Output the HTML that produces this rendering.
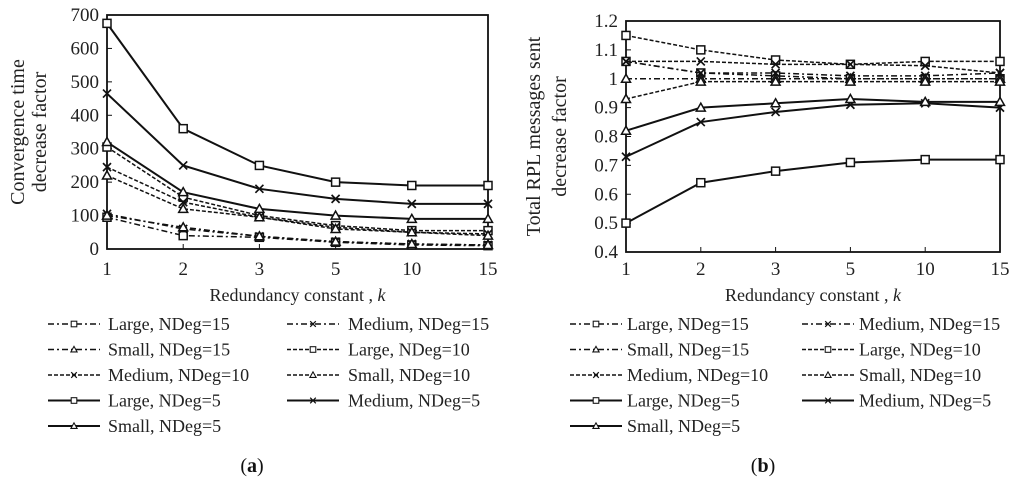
<!DOCTYPE html>
<html><head><meta charset="utf-8"><style>
body{margin:0;background:#fff;}
svg{display:block;}
svg text{font-family:"Liberation Serif","Times New Roman",serif;}
</style></head><body>
<svg id="c" width="1024" height="484" viewBox="0 0 1024 484"></svg>
<script>
const categories=["1","2","3","5","10","15"];
const seriesNames=["Large, NDeg=15","Medium, NDeg=15","Small, NDeg=15","Large, NDeg=10","Medium, NDeg=10","Small, NDeg=10","Large, NDeg=5","Medium, NDeg=5","Small, NDeg=5"];
const ticksA=[0,100,200,300,400,500,600,700];
const ticksB=[0.4,0.5,0.6,0.7,0.8,0.9,1,1.1,1.2];
const aLarge15=[95,40,35,20,12,10];
const aMedium15=[105,60,38,22,15,12];
const aSmall15=[100,65,38,22,15,12];
const aLarge10=[305,155,100,70,55,55];
const aMedium10=[245,140,95,65,50,45];
const aSmall10=[220,120,95,60,50,40];
const aLarge5=[675,360,250,200,190,190];
const aMedium5=[465,250,180,150,135,135];
const aSmall5=[320,170,120,100,90,90];
const bLarge15=[1.06,1.02,1.01,1.0,1.0,1.0];
const bMedium15=[1.06,1.02,1.02,1.01,1.01,1.02];
const bSmall15=[1.0,1.0,1.0,1.0,1.0,1.0];
const bLarge10=[1.15,1.1,1.065,1.05,1.06,1.06];
const bMedium10=[1.06,1.06,1.05,1.05,1.045,1.02];
const bSmall10=[0.93,0.99,0.99,0.99,0.99,0.99];
const bLarge5=[0.5,0.64,0.68,0.71,0.72,0.72];
const bMedium5=[0.73,0.85,0.885,0.91,0.915,0.9];
const bSmall5=[0.82,0.9,0.915,0.93,0.92,0.92];

const NS="http://www.w3.org/2000/svg";
const svg=document.getElementById('c');
function mk(t,a,p){const e=document.createElementNS(NS,t);for(const k in a)e.setAttribute(k,a[k]);(p||svg).appendChild(e);return e;}
const dashes=["6 3 2 3","6 3 2 3","6 3 2 3","4 2","4 2","4 2","","",""];
const markers=["sq","x","tri","sq","x","tri","sq","x","tri"];
const widths=[1.5,1.5,1.5,1.5,1.5,1.5,2,2,2];
function marker(g,m,x,y){
  if(m==="sq")mk('rect',{x:x-4,y:y-4,width:8,height:8,fill:'#fff',stroke:'#111','stroke-width':1.5},g);
  else if(m==="x"){mk('path',{d:`M${x-4} ${y-4}L${x+4} ${y+4}M${x+4} ${y-4}L${x-4} ${y+4}`,stroke:'#111','stroke-width':1.7},g);}
  else mk('path',{d:`M${x} ${y-4.5}L${x+4.5} ${y+3.5}L${x-4.5} ${y+3.5}Z`,fill:'#fff',stroke:'#111','stroke-width':1.5},g);
}
function chart(id,x0,x1,y0,y1,vmin,vmax,ticks,fmt,data,ytitle,tx1,tx2){
  const g=mk('g',{});
  
  
  const xs=i=>x0+(x1-x0)*i/(categories.length-1);
  const ys=v=>y1-(y1-y0)*(v-vmin)/(vmax-vmin);
  mk('rect',{x:x0,y:y0,width:x1-x0,height:y1-y0,fill:'none',stroke:'#111','stroke-width':1.8},g);
  ticks.forEach(t=>{const y=ys(t);
    mk('line',{x1:x0,x2:x0+5,y1:y,y2:y,stroke:'#111'},g);
    const tt=mk('text',{x:x0-8,y:y+6,'text-anchor':'end','font-size':19,fill:'#222'},g);tt.textContent=fmt(t);
    });
  categories.forEach((c,i)=>{const x=xs(i);
    mk('line',{x1:x,x2:x,y1:y1,y2:y1-5,stroke:'#111'},g);
    const tt=mk('text',{x:x,y:275,'text-anchor':'middle','font-size':19,fill:'#222'},g);tt.textContent=c;
    });
  data.forEach((s,k)=>{
    const p=mk('polyline',{points:s.map((v,i)=>xs(i)+','+ys(v)).join(' '),fill:'none',stroke:'#111','stroke-width':widths[k],'stroke-dasharray':dashes[k]||'none'},g);
    
    s.forEach((v,i)=>marker(g,markers[k],xs(i),ys(v)));
  });
  const cy=(y0+y1)/2;
  const t1=mk('text',{transform:`translate(${tx1},${cy}) rotate(-90)`,'text-anchor':'middle','font-size':20,fill:'#222'},g);t1.textContent=ytitle[0];
  
  const t2=mk('text',{transform:`translate(${tx2},${cy}) rotate(-90)`,'text-anchor':'middle','font-size':20,fill:'#222'},g);t2.textContent=ytitle[1];
  
  const xt=mk('text',{x:(x0+x1)/2,y:301,'text-anchor':'middle','font-size':18,fill:'#222'},g);
  xt.innerHTML='Redundancy constant , <tspan font-style="italic">k</tspan>';
  
}
function legend(c1l,c1t,c2l,c2t,cap,capx){
  const g=mk('g',{});
  
  
  seriesNames.forEach((n,k)=>{
    const col=k%2,row=Math.floor(k/2);const y=324+25.5*row;
    const lx=col?c2l:c1l,tx=col?c2t:c1t;
    mk('line',{x1:lx,x2:lx+52,y1:y,y2:y,stroke:'#111','stroke-width':widths[k],'stroke-dasharray':dashes[k]||'none'},g);
    const e=mk('g',{transform:'scale(0.7)'},g);marker(e,markers[k],(lx+26)/0.7,y/0.7);
    const t=mk('text',{x:tx,y:y+6,'font-size':18,fill:'#222'},g);t.textContent=n;
    
  });
  const c=mk('text',{x:capx,y:472,'text-anchor':'middle','font-size':20,fill:'#111'},g);
  c.innerHTML='(<tspan font-weight="bold">'+cap+'</tspan>)';
  
}
chart('chart-a',107,488,15,249,0,700,ticksA,t=>String(t),[aLarge15,aMedium15,aSmall15,aLarge10,aMedium10,aSmall10,aLarge5,aMedium5,aSmall5],["Convergence time","decrease factor"],24,46);
chart('chart-b',626,1000,21,252,0.4,1.2,ticksB,t=>(t===1?'1':t.toFixed(1)),[bLarge15,bMedium15,bSmall15,bLarge10,bMedium10,bSmall10,bLarge5,bMedium5,bSmall5],["Total RPL messages sent","decrease factor"],540,566);
legend(48,108,287,348,'a',252);
legend(570,627,802,859,'b',763);
</script>
</body></html>
